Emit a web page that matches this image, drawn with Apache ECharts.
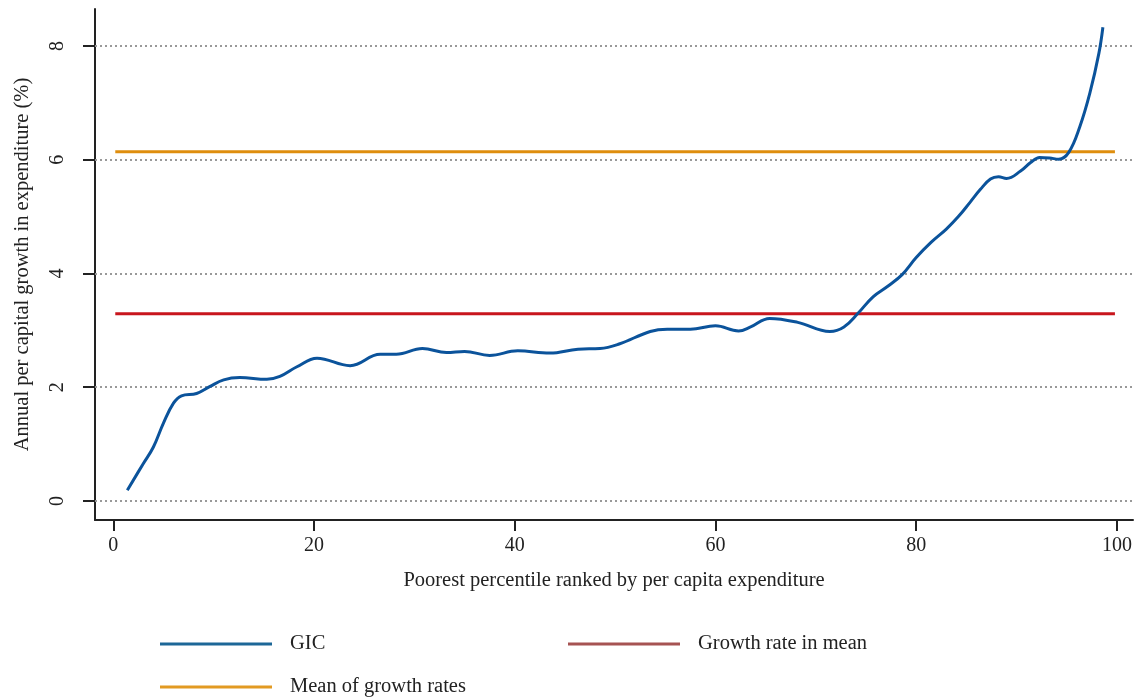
<!DOCTYPE html>
<html>
<head>
<meta charset="utf-8">
<script src="https://cdn.jsdelivr.net/npm/echarts@6/dist/echarts.min.js"></script>
<style>
  html, body { margin: 0; padding: 0; background: #fff; }
  #chart { width: 1135px; height: 697px; }
</style>
</head>
<body>
<div id="chart"></div>
<script>
// percentile positions and GIC values
const pctl = [1.4, 3.0, 4.0, 5.0, 6.0, 6.8, 8.3, 9.6, 11.0, 12.6, 15.3, 16.6, 18.3, 20.3, 23.6, 26.6, 28.2, 30.8,
  33.2, 35.0, 37.5, 40.3, 43.5, 46.3, 48.5, 50.4, 53.5, 55.2, 57.5, 60.0, 62.3, 63.5, 65.4, 68.2, 71.4, 72.8,
  74.2, 75.7, 77.2, 78.6, 80.0, 81.5, 83.0, 84.2, 85.4, 86.4, 87.4, 88.2, 89.0, 90.4, 91.4, 92.3, 93.3, 94.2, 95.2, 96.3, 97.3, 98.2, 98.6];
const gic = [0.19, 0.66, 0.95, 1.37, 1.72, 1.85, 1.89, 2.01, 2.13, 2.17, 2.14, 2.19, 2.36, 2.51, 2.38, 2.58, 2.58, 2.68,
  2.61, 2.63, 2.56, 2.64, 2.60, 2.67, 2.68, 2.76, 2.98, 3.02, 3.02, 3.08, 2.99, 3.06, 3.21, 3.14, 2.98, 3.06,
  3.30, 3.59, 3.78, 3.98, 4.28, 4.55, 4.78, 5.00, 5.26, 5.48, 5.66, 5.70, 5.67, 5.80, 5.95, 6.04, 6.03, 6.01, 6.13, 6.58, 7.17, 7.87, 8.33];
const lineSpan = [0.2, 99.8];
const growthInMean = 3.29;
const meanOfGrowth = 6.14;
const xTicks = [0, 20, 40, 60, 80, 100];
const yTicks = [0, 2, 4, 6, 8];

const font = '"Liberation Serif", "DejaVu Serif", serif';
const ink = '#222';

const chart = echarts.init(document.getElementById('chart'), null, { renderer: 'canvas' });

const legendBase = {
  orient: 'vertical',
  icon: 'rect',
  itemWidth: 112,
  itemHeight: 3,
  itemGap: 0,
  selectedMode: false,
  textStyle: { fontFamily: font, fontSize: 20.5, color: ink, padding: [0, 0, 0, 13], lineHeight: 24 },
  padding: 0
};

chart.setOption({
  animation: false,
  backgroundColor: '#fff',
  grid: { left: 95, right: 2, top: 9, bottom: 177, containLabel: false, outerBoundsMode: 'none' },
  legend: [
    Object.assign({}, legendBase, { left: 160, top: 632, data: [{ name: 'GIC', itemStyle: { color: '#1c6797' } }] }),
    Object.assign({}, legendBase, { left: 568, top: 632, data: [{ name: 'Growth rate in mean', itemStyle: { color: '#a65352' } }] }),
    Object.assign({}, legendBase, { left: 160, top: 675, data: [{ name: 'Mean of growth rates', itemStyle: { color: '#e29a22' } }] })
  ],
  xAxis: {
    type: 'value',
    min: -1.82,
    max: 101.6,
    name: 'Poorest percentile ranked by per capita expenditure',
    nameLocation: 'middle',
    nameGap: 50,
    nameTextStyle: { fontFamily: font, fontSize: 20.5, color: ink },
    axisLine: { show: true, onZero: false, lineStyle: { color: ink, width: 2 } },
    axisTick: { show: true, length: 11, customValues: xTicks, lineStyle: { color: ink, width: 2 } },
    axisLabel: { customValues: xTicks, margin: 16, fontFamily: font, fontSize: 20, color: ink },
    splitLine: { show: false }
  },
  yAxis: {
    type: 'value',
    min: -0.334,
    max: 8.65,
    name: 'Annual per capital growth in expenditure (%)',
    nameLocation: 'middle',
    nameGap: 62,
    nameRotate: 90,
    nameTextStyle: { fontFamily: font, fontSize: 20.5, color: ink },
    axisLine: { show: true, onZero: false, lineStyle: { color: ink, width: 2 } },
    axisTick: { show: true, length: 12, customValues: yTicks, lineStyle: { color: ink, width: 2 } },
    axisLabel: { customValues: yTicks, rotate: 90, margin: 27, fontFamily: font, fontSize: 20, color: ink },
    splitLine: { show: false }
  },
  series: [
    {
      name: 'GIC',
      type: 'line',
      data: pctl.map((p, i) => [p, gic[i]]),
      smooth: 0.4,
      showSymbol: false,
      z: 5,
      lineStyle: { color: '#0b539b', width: 3 },
      itemStyle: { color: '#0b539b' },
      markLine: {
        silent: true,
        symbol: 'none',
        label: { show: false },
        lineStyle: { color: '#999', width: 2, type: [2, 3] },
        data: yTicks.map(v => ({ yAxis: v }))
      }
    },
    {
      name: 'Growth rate in mean',
      type: 'line',
      data: lineSpan.map(p => [p, growthInMean]),
      showSymbol: false,
      z: 4,
      lineStyle: { color: '#c8161d', width: 3 },
      itemStyle: { color: '#c8161d' }
    },
    {
      name: 'Mean of growth rates',
      type: 'line',
      data: lineSpan.map(p => [p, meanOfGrowth]),
      showSymbol: false,
      z: 4,
      lineStyle: { color: '#df8e0e', width: 3 },
      itemStyle: { color: '#df8e0e' }
    }
  ]
});
</script>
</body>
</html>
